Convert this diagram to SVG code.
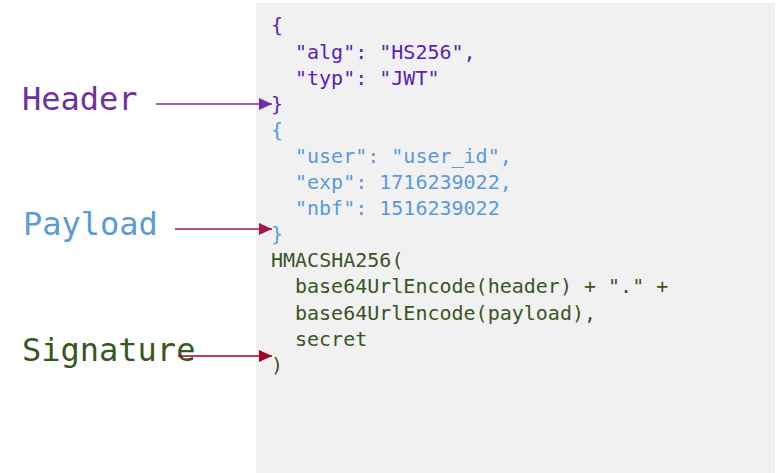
<svg xmlns="http://www.w3.org/2000/svg" width="776" height="473" viewBox="0 0 776 473">
  <style>
    .code { font-family: "DejaVu Sans Mono", "Liberation Mono", monospace; font-size: 20px; }
    .label { font-family: "DejaVu Sans Mono", "Liberation Mono", monospace; font-size: 32px; }
    .hdr { fill: #5B1DB8; }
    .pay { fill: #5B9BD5; }
    .sig { fill: #375623; }
    .conn { fill: none; stroke-width: 1.6; }
  </style>
  <defs>
    <marker id="ah-purple" markerUnits="userSpaceOnUse" markerWidth="14" markerHeight="14" refX="13" refY="6" orient="auto">
      <path d="M0,0 L13,6 L0,12 Z" fill="#7030A0"/>
    </marker>
    <marker id="ah-crimson" markerUnits="userSpaceOnUse" markerWidth="14" markerHeight="14" refX="13" refY="6" orient="auto">
      <path d="M0,0 L13,6 L0,12 Z" fill="#A5154E"/>
    </marker>
    <marker id="ah-red" markerUnits="userSpaceOnUse" markerWidth="14" markerHeight="14" refX="13" refY="6" orient="auto">
      <path d="M0,0 L13,6 L0,12 Z" fill="#A50021"/>
    </marker>
  </defs>
  <rect width="776" height="473" fill="#FFFFFF"/>
  <g id="code-panel">
    <rect x="256" y="3" width="519" height="470" fill="#F1F1F1"/>
    <g id="header-code" class="code hdr">
      <text x="271" y="32.4">{</text>
      <text x="295" y="58.5">"alg": "HS256",</text>
      <text x="295" y="84.6">"typ": "JWT"</text>
      <text x="271" y="110.7">}</text>
    </g>
    <g id="payload-code" class="code pay">
      <text x="271" y="136.8">{</text>
      <text x="295" y="162.9">"user": "user_id",</text>
      <text x="295" y="189">"exp": 1716239022,</text>
      <text x="295" y="215.1">"nbf": 1516239022</text>
      <text x="271" y="241.2">}</text>
    </g>
    <g id="signature-code" class="code sig">
      <text x="271" y="267.3">HMACSHA256(</text>
      <text x="295" y="293.4">base64UrlEncode(header) + "." +</text>
      <text x="295" y="319.5">base64UrlEncode(payload),</text>
      <text x="295" y="345.6">secret</text>
      <text x="271" y="371.7">)</text>
    </g>
  </g>
  <g id="header-label">
    <text class="label" x="22" y="109.5" fill="#7030A0">Header</text>
  </g>
  <g id="payload-label">
    <text class="label" x="23" y="235" fill="#5B9BD5">Payload</text>
  </g>
  <g id="signature-label">
    <text class="label" x="22" y="361" fill="#375623">Signature</text>
  </g>
  <g id="connectors">
    <line class="conn" x1="156" y1="104" x2="272" y2="104" stroke="#7030A0" marker-end="url(#ah-purple)"/>
    <line class="conn" x1="175" y1="229" x2="272" y2="229" stroke="#A5154E" marker-end="url(#ah-crimson)"/>
    <line class="conn" x1="178" y1="356" x2="272" y2="356" stroke="#A50021" marker-end="url(#ah-red)"/>
  </g>
</svg>
